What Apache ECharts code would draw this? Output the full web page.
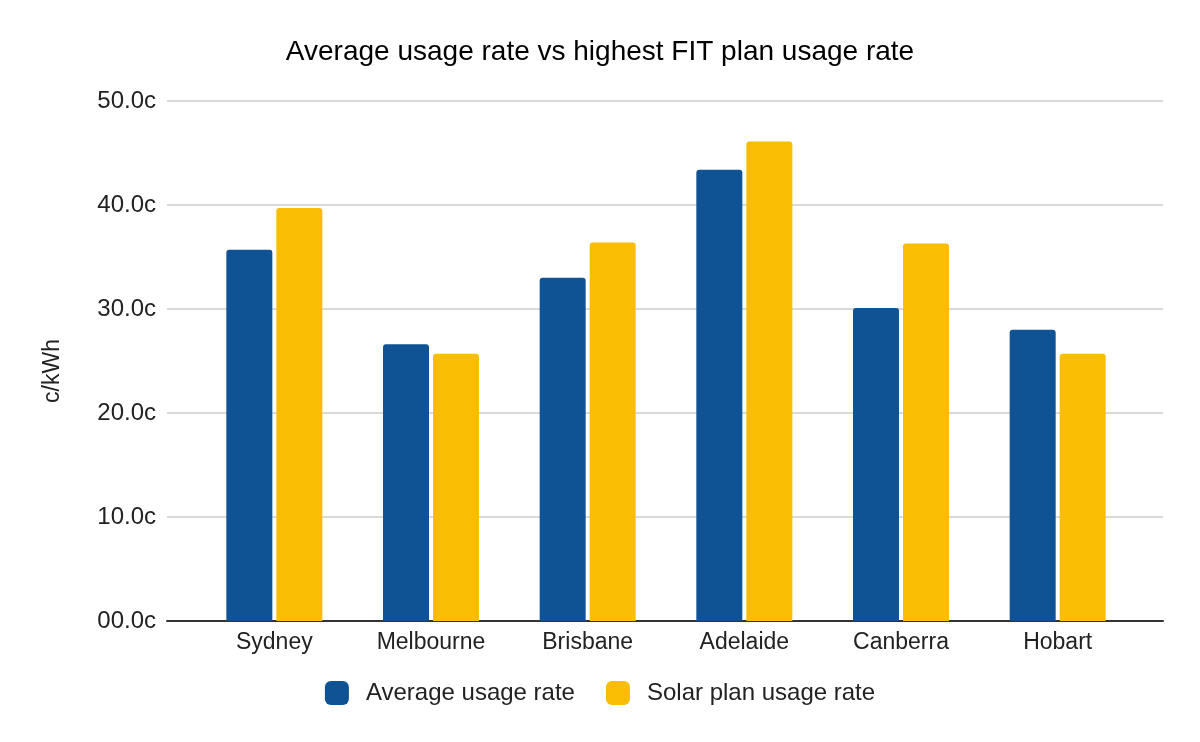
<!DOCTYPE html>
<html>
<head>
<meta charset="utf-8">
<script src="https://cdn.jsdelivr.net/npm/echarts@6/dist/echarts.min.js"></script>
<style>
  html, body { margin: 0; padding: 0; background: #ffffff; }
  #chart { width: 1200px; height: 742px; }
</style>
</head>
<body>
<div id="chart"></div>
<script>
const categories = ['Sydney', 'Melbourne', 'Brisbane', 'Adelaide', 'Canberra', 'Hobart'];
const averageUsage = [35.7, 26.6, 33.0, 43.4, 30.1, 28.0];
const solarUsage = [39.7, 25.7, 36.4, 46.1, 36.3, 25.7];
const yTickLabels = ['00.0c', '10.0c', '20.0c', '30.0c', '40.0c', '50.0c'];
const seriesNames = ['Average usage rate', 'Solar plan usage rate'];

const FONT = 'Liberation Sans, Arial, sans-serif';
const chart = echarts.init(document.getElementById('chart'));
chart.setOption({
  backgroundColor: '#ffffff',
  animation: false,
  title: {
    text: 'Average usage rate vs highest FIT plan usage rate',
    left: 'center',
    top: 33,
    textStyle: { fontFamily: FONT, fontSize: 28, fontWeight: 'normal', color: '#000000' }
  },
  legend: {
    data: seriesNames,
    left: 'center',
    top: 676,
    itemWidth: 24,
    itemHeight: 24,
    itemGap: 31,
    icon: 'roundRect',
    textStyle: { fontFamily: FONT, fontSize: 24, color: '#222222', padding: [0, 0, 0, 12] }
  },
  grid: [
    { left: 167, right: 37, top: 101, bottom: 121 },
    { left: 196, right: 64, top: 101, bottom: 121 }
  ],
  xAxis: [
    {
      gridIndex: 0, type: 'value', min: 0, max: 1,
      axisLine: { show: true, onZero: false, lineStyle: { color: '#333333', width: 2 } },
      axisTick: { show: false }, axisLabel: { show: false }, splitLine: { show: false }
    },
    {
      gridIndex: 1, type: 'category', data: categories,
      axisLine: { show: false }, axisTick: { show: false },
      axisLabel: { fontFamily: FONT, fontSize: 23, color: '#222222', margin: 10 }
    }
  ],
  yAxis: [
    {
      gridIndex: 0, type: 'value', min: 0, max: 50, interval: 10,
      name: 'c/kWh', nameLocation: 'middle', nameGap: 103, nameRotate: 90,
      nameTextStyle: { fontFamily: FONT, fontSize: 23, color: '#222222', padding: [0, 20, 0, 0] },
      axisLine: { show: false }, axisTick: { show: false },
      axisLabel: {
        fontFamily: FONT, fontSize: 24, color: '#222222', margin: 11,
        formatter: function (v) { return yTickLabels[Math.round(v / 10)]; }
      },
      splitLine: { show: true, lineStyle: { color: '#cccccc', width: 1.5 } }
    },
    {
      gridIndex: 1, type: 'value', min: 0, max: 50, show: false,
      splitLine: { show: false }
    }
  ],
  series: [
    {
      name: seriesNames[0], type: 'bar', xAxisIndex: 1, yAxisIndex: 1,
      data: averageUsage, barWidth: 46, barGap: '8.7%',
      itemStyle: { color: '#0f5394', borderRadius: [3, 3, 0, 0] }
    },
    {
      name: seriesNames[1], type: 'bar', xAxisIndex: 1, yAxisIndex: 1,
      data: solarUsage, barWidth: 46, barGap: '8.7%',
      itemStyle: { color: '#f9bd03', borderRadius: [3, 3, 0, 0] }
    }
  ]
});
</script>
</body>
</html>
